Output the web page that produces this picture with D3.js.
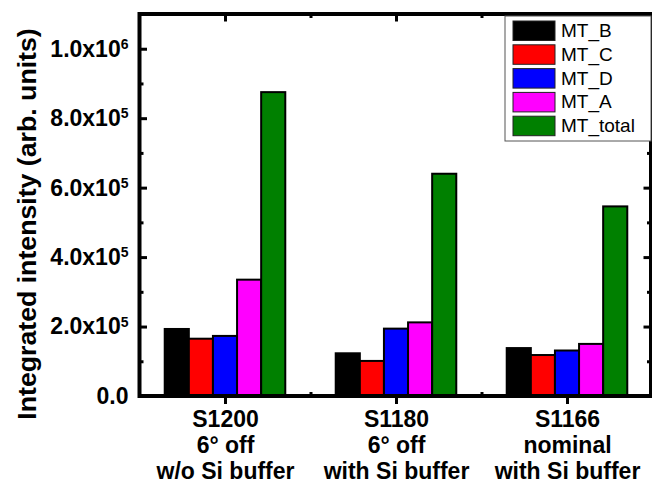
<!DOCTYPE html>
<html>
<head>
<meta charset="utf-8">
<script src="https://cdn.jsdelivr.net/npm/d3@7"></script>
<style>
  html, body { margin: 0; padding: 0; background: #fff; }
  svg { display: block; font-family: "Liberation Sans", Arial, sans-serif; }
</style>
</head>
<body>
<svg id="chart" width="652" height="486"></svg>
<script>
// Samples and their descriptions (one line each)
const samples = ["S1200", "S1180", "S1166"];
const sampleLines = [
  ["S1200", "6° off", "w/o Si buffer"],
  ["S1180", "6° off", "with Si buffer"],
  ["S1166", "nominal", "with Si buffer"]
];

// Series names, colours and integrated intensities per sample
const seriesNames = ["MT_B", "MT_C", "MT_D", "MT_A", "MT_total"];
const seriesColors = ["#000000", "#ff0000", "#0000ff", "#ff00ff", "#008000"];
const mtB = [1.93e5, 1.23e5, 1.38e5];
const mtC = [1.65e5, 1.01e5, 1.18e5];
const mtD = [1.73e5, 1.94e5, 1.31e5];
const mtA = [3.35e5, 2.12e5, 1.50e5];
const mtTotal = [8.75e5, 6.40e5, 5.46e5];
const seriesValues = [mtB, mtC, mtD, mtA, mtTotal];

// Axis ticks
const yMajorTicks = [0, 2e5, 4e5, 6e5, 8e5, 1e6];
const yMinorTicks = [1e5, 3e5, 5e5, 7e5, 9e5];
const yTickLabels = [["0.0", ""], ["2.0x10", "5"], ["4.0x10", "5"], ["6.0x10", "5"], ["8.0x10", "5"], ["1.0x10", "6"]];
const xMinorTicks = [1.5, 2.5];

const svg = d3.select("#chart");
const plotL = 139.5, plotR = 652.5, plotT = 14, plotB = 396;

const x = d3.scaleLinear().domain([0.5, 3.5]).range([plotL, plotR]);
const y = d3.scaleLinear().domain([0, 1.1e6]).range([plotB, plotT]);

const barW = 0.141;            // width of one bar in category units
const groupW = barW * seriesNames.length;

// Bars
const bars = [];
seriesValues.forEach((vals, si) => {
  vals.forEach((v, ci) => bars.push({ s: si, c: ci + 1, v }));
});
svg.append("g").selectAll("rect").data(bars).join("rect")
  .attr("x", d => x(d.c - groupW / 2 + d.s * barW))
  .attr("width", d => x(d.c - groupW / 2 + (d.s + 1) * barW) - x(d.c - groupW / 2 + d.s * barW))
  .attr("y", d => y(d.v))
  .attr("height", d => y(0) - y(d.v))
  .attr("fill", d => seriesColors[d.s])
  .attr("stroke", "#000")
  .attr("stroke-width", 2);

function thickTicks(g) {
  g.select(".domain").remove();
  g.selectAll(".tick line").attr("stroke-width", 3);
}

// Left axis: inward ticks with exponent labels
const yAxis = svg.append("g").attr("transform", `translate(${plotL},0)`)
  .call(d3.axisLeft(y).tickValues(yMajorTicks).tickSize(-7.5).tickPadding(11).tickFormat(() => ""))
  .call(thickTicks);
yAxis.selectAll(".tick text").each(function (d, i) {
  const t = d3.select(this)
    .attr("font-size", 23).attr("font-weight", "bold").attr("fill", "#000")
    .attr("font-family", "'Liberation Sans', Arial, sans-serif");
  const lab = yTickLabels[i];
  t.append("tspan").text(lab[0]);
  if (lab[1]) t.append("tspan").attr("dy", "-0.55em").attr("font-size", 14).text(lab[1]);
});
svg.append("g").attr("transform", `translate(${plotL},0)`)
  .call(d3.axisLeft(y).tickValues(yMinorTicks).tickSize(-4).tickFormat(() => ""))
  .call(thickTicks);

// Right axis: inward ticks, no labels
svg.append("g").attr("transform", `translate(${plotR - 1.5},0)`)
  .call(d3.axisRight(y).tickValues(yMajorTicks).tickSize(-7.5).tickFormat(() => ""))
  .call(thickTicks);
svg.append("g").attr("transform", `translate(${plotR - 1.5},0)`)
  .call(d3.axisRight(y).tickValues(yMinorTicks).tickSize(-4).tickFormat(() => ""))
  .call(thickTicks);

// Bottom axis: outward major ticks with multi-line sample labels
const xAxis = svg.append("g").attr("transform", `translate(0,${plotB})`)
  .call(d3.axisBottom(x).tickValues([1, 2, 3]).tickSize(8).tickFormat(() => ""))
  .call(thickTicks);
xAxis.selectAll(".tick text").each(function (d, i) {
  const t = d3.select(this)
    .attr("font-size", 23).attr("font-weight", "bold").attr("fill", "#000")
    .attr("font-family", "'Liberation Sans', Arial, sans-serif")
    .attr("y", 0).attr("dy", null);
  sampleLines[i].forEach((line, k) => {
    t.append("tspan").attr("x", 0).attr("y", 31 + k * 26).text(line);
  });
});
svg.append("g").attr("transform", `translate(0,${plotB})`)
  .call(d3.axisBottom(x).tickValues(xMinorTicks).tickSize(-4).tickFormat(() => ""))
  .call(thickTicks);

// Top axis: inward ticks
svg.append("g").attr("transform", `translate(0,${plotT})`)
  .call(d3.axisTop(x).tickValues([1, 2, 3]).tickSize(-7.5).tickFormat(() => ""))
  .call(thickTicks);
svg.append("g").attr("transform", `translate(0,${plotT})`)
  .call(d3.axisTop(x).tickValues(xMinorTicks).tickSize(-4).tickFormat(() => ""))
  .call(thickTicks);

// Frame
svg.append("rect")
  .attr("x", plotL).attr("y", plotT)
  .attr("width", plotR - 1.5 - plotL).attr("height", plotB - plotT)
  .attr("fill", "none").attr("stroke", "#000").attr("stroke-width", 4);

// Y axis title
svg.append("text")
  .attr("transform", "translate(36,224) rotate(-90)")
  .attr("text-anchor", "middle")
  .attr("font-size", 26.7).attr("font-weight", "bold")
  .text("Integrated intensity (arb. units)");

// Legend
const lg = svg.append("g");
lg.append("rect")
  .attr("x", 505).attr("y", 16).attr("width", 146).attr("height", 125)
  .attr("fill", "#fff").attr("stroke", "#555").attr("stroke-width", 1);
const items = lg.selectAll("g.item").data(seriesNames).join("g")
  .attr("class", "item")
  .attr("transform", (d, i) => `translate(0,${21 + i * 23.8})`);
items.append("rect")
  .attr("x", 513).attr("y", 0).attr("width", 42).attr("height", 19.5)
  .attr("fill", (d, i) => seriesColors[i])
  .attr("stroke", "#222").attr("stroke-width", 1);
items.append("text")
  .attr("x", 561).attr("y", 16)
  .attr("font-size", 19)
  .text(d => d);
</script>
</body>
</html>
